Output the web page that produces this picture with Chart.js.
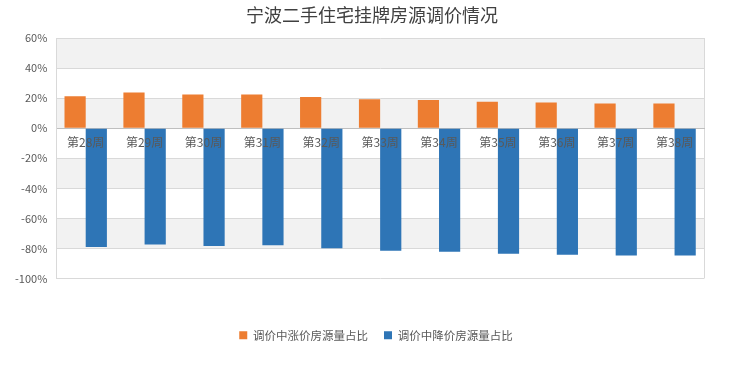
<!DOCTYPE html>
<html>
<head>
<meta charset="utf-8">
<script src="https://cdn.jsdelivr.net/npm/chart.js@4"></script>
<style>
  html, body { margin: 0; padding: 0; background: #fff; }
  #chart { display: block; }
</style>
</head>
<body>
<canvas id="chart" width="740" height="370"></canvas>
<script>
const categories = ['第28周', '第29周', '第30周', '第31周', '第32周', '第33周', '第34周', '第35周', '第36周', '第37周', '第38周'];
const riseShare = [21.3, 23.8, 22.4, 22.4, 20.7, 19.3, 18.7, 17.6, 17.1, 16.4, 16.4];
const fallShare = [-79.1, -77.3, -78.4, -77.8, -79.8, -81.6, -82.2, -83.6, -84.2, -84.7, -84.7];
const yMin = -100;
const yMax = 60;
const yStep = 20;

const FONT = '"Noto Sans CJK SC", "Noto Sans", sans-serif';
const TEXT = '#595959';

// grey bands every other interval + right frame line
const bandPlugin = {
    id: 'bands',
    afterLayout(chart) {
        // title and legend sit centred on the whole canvas, not on the padded area
        chart.titleBlock.left += 17;
        chart.titleBlock.right += 17;
        chart.legend.left += 21;
        chart.legend.right += 21;
    },
    beforeDraw(chart) {
        const { ctx, chartArea } = chart;
        const y = chart.scales.y;
        ctx.save();
        ctx.fillStyle = '#f2f2f2';
        for (let v = yMax; v > yMin; v -= yStep * 2) {
            const top = y.getPixelForValue(v);
            const bottom = y.getPixelForValue(v - yStep);
            ctx.fillRect(chartArea.left, top, chartArea.right - chartArea.left, bottom - top);
        }
        ctx.strokeStyle = '#d9d9d9';
        ctx.lineWidth = 1;
        ctx.beginPath();
        ctx.moveTo(Math.round(chartArea.right) + 0.5, chartArea.top);
        ctx.lineTo(Math.round(chartArea.right) + 0.5, chartArea.bottom);
        ctx.stroke();
        ctx.restore();
    }
};

new Chart(document.getElementById('chart').getContext('2d'), {
    type: 'bar',
    data: {
        labels: categories,
        datasets: [
            {
                label: '调价中涨价房源量占比',
                data: riseShare,
                backgroundColor: '#ed7d31',
                xAxisID: 'x',
                categoryPercentage: 0.72,
                barPercentage: 1
            },
            {
                label: '调价中降价房源量占比',
                data: fallShare,
                backgroundColor: '#2e75b6',
                xAxisID: 'x',
                categoryPercentage: 0.72,
                barPercentage: 1
            }
        ]
    },
    options: {
        responsive: false,
        animation: false,
        devicePixelRatio: 1,
        layout: { padding: { left: 6, right: 36, top: 0, bottom: 19 } },
        plugins: {
            title: {
                display: true,
                text: '宁波二手住宅挂牌房源调价情况',
                color: '#404040',
                font: { family: FONT, size: 18, weight: 'normal' },
                padding: { top: 4, bottom: 12.4 }
            },
            legend: {
                position: 'bottom',
                labels: {
                    boxWidth: 8,
                    boxHeight: 8,
                    padding: 16,
                    color: TEXT,
                    font: { family: FONT, size: 11.5 }
                }
            },
            tooltip: { enabled: false }
        },
        scales: {
            x: {
                type: 'category',
                position: { y: 0 },
                grid: { display: false, drawTicks: false },
                border: { display: true, color: '#bfbfbf', width: 1 },
                ticks: {
                    z: 1,
                    padding: 7,
                    color: TEXT,
                    maxRotation: 0,
                    font: { family: FONT, size: 12 }
                }
            },
            x2: {
                type: 'category',
                position: 'bottom',
                grid: { display: false, drawTicks: false },
                border: { display: false },
                ticks: { display: false },
                afterFit(scale) { scale.height = 35; }
            },
            y: {
                min: yMin,
                max: yMax,
                ticks: {
                    stepSize: yStep,
                    padding: 9,
                    color: TEXT,
                    font: { family: FONT, size: 11 },
                    callback: v => v + '%'
                },
                grid: { color: '#d9d9d9', drawTicks: false },
                border: { display: true, color: '#d9d9d9' }
            }
        }
    },
    plugins: [bandPlugin]
});
</script>
</body>
</html>
